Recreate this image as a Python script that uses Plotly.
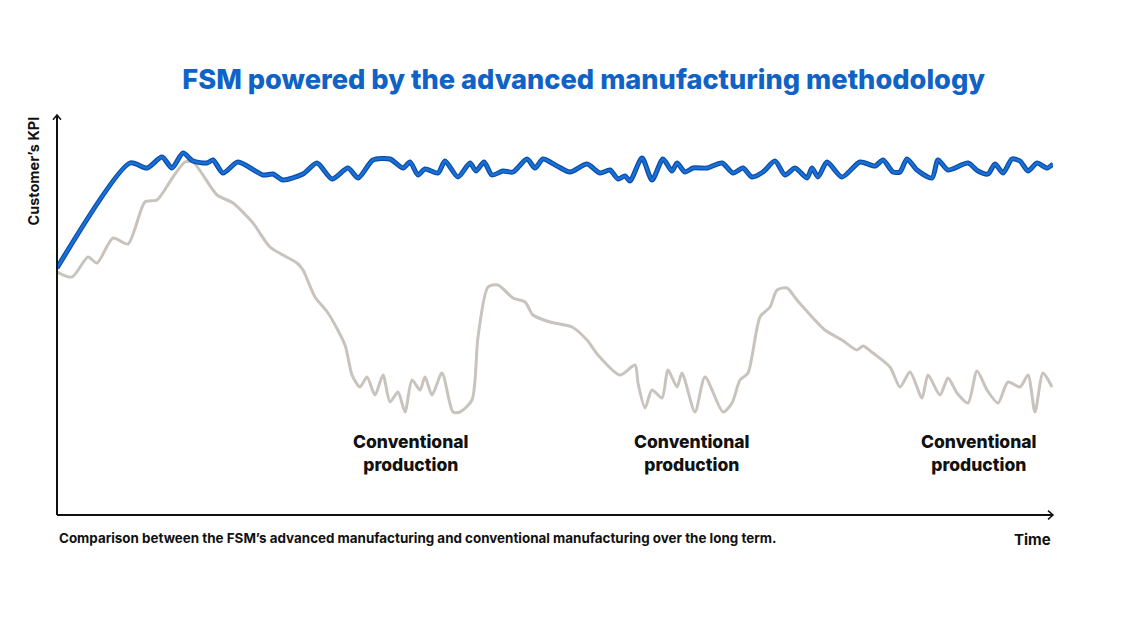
import plotly.graph_objects as go

# Time axis units and KPI values
fsm_time = [0, 73, 90, 105, 115, 126, 136, 150, 156, 166, 181, 206, 216, 226, 246, 260,
            275, 291, 301, 316, 333, 346, 353, 361, 368, 381, 388, 401, 413, 419, 427,
            435, 446, 456, 470, 478, 486, 500, 513, 530, 543, 553, 561, 568, 573, 585,
            595, 606, 615, 620, 628, 636, 650, 665, 676, 686, 695, 706, 718, 728, 738,
            750, 755, 761, 770, 785, 803, 818, 826, 836, 843, 850, 860, 875, 881, 891,
            911, 921, 931, 938, 946, 955, 963, 971, 980, 990, 996]
fsm_kpi = [247, 352, 347, 358, 347, 362, 354, 352, 355, 342, 353, 340, 341, 335, 341, 352,
           336, 347, 337, 355, 356, 347, 353, 340, 346, 342, 354, 338, 352, 344, 353,
           340, 344, 343, 356, 347, 356, 349, 343, 351, 342, 345, 336, 339, 334, 357,
           335, 356, 344, 352, 343, 347, 347, 352, 342, 347, 338, 343, 354, 340, 347,
           337, 347, 338, 353, 338, 353, 349, 355, 343, 343, 356, 345, 337, 355, 345,
           352, 344, 341, 351, 342, 356, 354, 344, 352, 347, 351]

conv_time = [0, 15, 31, 40, 56, 71, 88, 100, 116, 128, 136, 160, 176, 196, 213, 240,
             246, 258, 271, 288, 295, 303, 310, 318, 326, 333, 341, 348, 355, 363, 368,
             375, 385, 396, 403, 415, 421, 431, 441, 456, 468, 476, 493, 515, 530, 541,
             563, 578, 581, 588, 595, 605, 611, 620, 625, 638, 648, 666, 675, 683, 691,
             703, 713, 720, 730, 740, 768, 785, 800, 806, 816, 833, 843, 853, 865, 871,
             883, 891, 900, 911, 920, 930, 941, 951, 963, 971, 978, 986, 995]
conv_kpi = [243, 238, 258, 252, 277, 271, 313, 315, 338, 353, 353, 320, 312, 292, 268, 252,
            245, 218, 202, 170, 140, 128, 138, 120, 140, 113, 123, 103, 135, 125, 138,
            120, 142, 103, 103, 115, 178, 228, 230, 217, 213, 200, 193, 188, 175, 160,
            140, 150, 132, 107, 125, 117, 145, 128, 142, 103, 138, 103, 112, 135, 142,
            198, 208, 225, 227, 215, 185, 175, 165, 169, 162, 148, 128, 143, 117, 140,
            120, 137, 122, 112, 144, 125, 112, 133, 128, 140, 103, 142, 128]

label_time = [354, 635, 922]
label_text = "Conventional<br>production"

BLUE = "#0f62c6"
FONT = "Inter, Roboto, sans-serif"

fig = go.Figure()
fig.add_trace(go.Scatter(
    x=conv_time, y=conv_kpi, mode="lines",
    line=dict(color="#c9c3be", width=3, shape="spline", smoothing=0.7),
    hoverinfo="skip",
))
fig.add_trace(go.Scatter(
    x=fsm_time, y=fsm_kpi, mode="lines",
    line=dict(color="#0a4ea6", width=5, shape="spline", smoothing=0.7),
    hoverinfo="skip",
))
fig.add_trace(go.Scatter(
    x=fsm_time, y=fsm_kpi, mode="lines",
    line=dict(color="#1a70d8", width=2.5, shape="spline", smoothing=0.7),
    hoverinfo="skip",
))

for t in label_time:
    fig.add_annotation(
        x=t, y=0.215, xref="x", yref="y domain", text=label_text,
        showarrow=False, xanchor="center", yanchor="top",
        font=dict(family=FONT, size=17.5, color="#111111", weight=800),
        align="center",
    )

# axes with open arrowheads
axis = dict(color="#111111", width=2)
fig.add_shape(type="line", xref="x domain", yref="y domain", x0=0, y0=0, x1=0, y1=1, line=axis)
fig.add_shape(type="line", xref="x domain", yref="y domain", x0=0, y0=0, x1=1, y1=0, line=axis)
fig.add_shape(type="path", xref="paper", yref="paper",
              path="M -0.004,0.988 L 0,1 L 0.004,0.988", line=dict(color="#111111", width=1.5))
fig.add_shape(type="path", xref="paper", yref="paper",
              path="M 0.995,0.011 L 1,0 L 0.995,-0.011", line=dict(color="#111111", width=1.5))

fig.add_annotation(
    x=-0.024, y=1.0, xref="paper", yref="paper", text="Customer’s KPI", textangle=-90,
    showarrow=False, xanchor="center", yanchor="top",
    font=dict(family=FONT, size=14.5, color="#111111", weight="bold"),
)
fig.add_annotation(
    x=0, y=-0.032, xref="paper", yref="paper",
    text="Comparison between the FSM’s advanced manufacturing and conventional manufacturing over the long term.",
    showarrow=False, xanchor="left", yanchor="top",
    font=dict(family=FONT, size=13.4, color="#111111", weight="bold"),
)
fig.add_annotation(
    x=1, y=-0.032, xref="paper", yref="paper", text="Time",
    showarrow=False, xanchor="right", yanchor="top",
    font=dict(family=FONT, size=15, color="#111111", weight="bold"),
)

fig.update_layout(
    width=1140, height=641,
    paper_bgcolor="white", plot_bgcolor="white",
    margin=dict(l=49, r=95, t=107, b=134),
    showlegend=False,
    title=dict(
        text="FSM powered by the advanced manufacturing methodology",
        x=0.505, xanchor="center", y=0.888, yanchor="middle",
        font=dict(family=FONT, size=27.2, color=BLUE, weight=800),
    ),
    xaxis=dict(range=[0, 996], visible=False, fixedrange=True),
    yaxis=dict(range=[0, 400], visible=False, fixedrange=True),
)

fig.write_html("out.html")
